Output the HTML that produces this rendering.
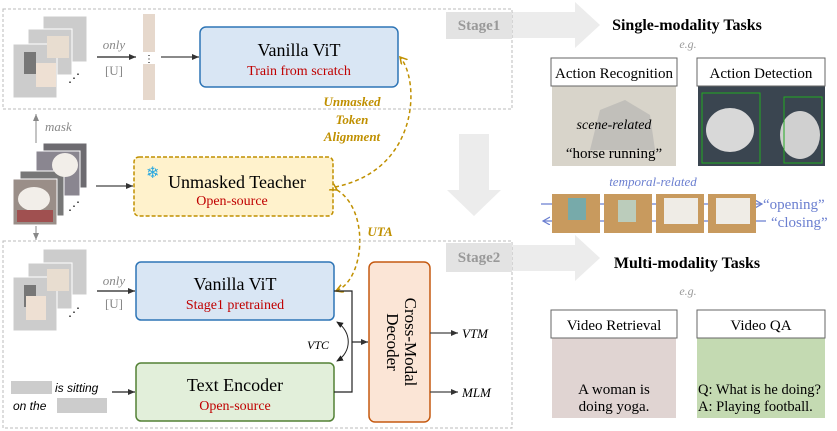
<!DOCTYPE html>
<html><head><meta charset="utf-8"><style>
body{margin:0;background:#fff;}
svg{display:block;font-family:"Liberation Serif",serif;}
</style></head><body>
<svg width="837" height="431" viewBox="0 0 837 431" xmlns="http://www.w3.org/2000/svg">
<defs>
<marker id="ak" markerWidth="8" markerHeight="8" refX="7" refY="4" orient="auto" markerUnits="userSpaceOnUse"><path d="M0,1 L7,4 L0,7 z" fill="#333"/></marker>
<marker id="ag" markerWidth="8" markerHeight="8" refX="7" refY="4" orient="auto" markerUnits="userSpaceOnUse"><path d="M0,1 L7,4 L0,7 z" fill="#888"/></marker>
<marker id="ay" markerWidth="9" markerHeight="9" refX="7" refY="4" orient="auto" markerUnits="userSpaceOnUse"><path d="M0,0 L7,4 L0,8" fill="none" stroke="#c09000" stroke-width="1.5"/></marker>
<marker id="ab" markerWidth="9" markerHeight="9" refX="7" refY="4" orient="auto" markerUnits="userSpaceOnUse"><path d="M0,0 L7,4 L0,8" fill="none" stroke="#6b7fd0" stroke-width="1.2"/></marker>
<marker id="ak2" markerWidth="8" markerHeight="8" refX="6" refY="4" orient="auto-start-reverse" markerUnits="userSpaceOnUse"><path d="M0,1 L7,4 L0,7 z" fill="#222"/></marker>
</defs>

<path d="M512,12 H575 V2 L600,25 L575,48 V38 H512 Z" fill="#ececec"/>
<path d="M512,245 H575 V235 L600,258 L575,281 V271 H512 Z" fill="#ececec"/>
<path d="M459,134 H489 V190 H501 L474,216 L447,190 H459 Z" fill="#ececec"/>

<rect x="3" y="9" width="509" height="100" fill="none" stroke="#bbb" stroke-dasharray="3,2"/>
<rect x="446" y="12" width="66" height="27" fill="#e3e3e3"/>
<text x="479" y="30" font-size="15" font-weight="bold" fill="#999" text-anchor="middle">Stage1</text>
<rect x="43" y="16" width="44" height="46" fill="#ccc" stroke="#fff"/>
<rect x="28" y="29" width="44" height="46" fill="#ccc" stroke="#fff"/>
<rect x="13" y="44" width="44" height="54" fill="#ccc" stroke="#fff"/>
<rect x="47" y="36" width="22" height="22" fill="#e8ddd0"/>
<rect x="24" y="52" width="12" height="22" fill="#777"/>
<rect x="36" y="63" width="20" height="24" fill="#eee0d3"/>
<text x="68" y="82" font-size="12">⋰</text>
<rect x="143" y="14" width="12" height="86" fill="#e6d8cc"/>
<rect x="143" y="52" width="12" height="12" fill="#fff"/>
<text x="149" y="62" font-size="10" text-anchor="middle">⋮</text>
<text x="114" y="49" font-size="13" font-style="italic" fill="#888" text-anchor="middle">only</text>
<line x1="97" y1="57" x2="136" y2="57" stroke="#222" stroke-width="1.2" marker-end="url(#ak)"/>
<text x="114" y="75" font-size="13" fill="#888" text-anchor="middle">[U]</text>
<line x1="161" y1="57" x2="199" y2="57" stroke="#444" stroke-width="1.2" marker-end="url(#ak)"/>
<rect x="200" y="27" width="198" height="60" rx="6" fill="#d9e6f4" stroke="#2e75b6" stroke-width="1.5"/>
<text x="299" y="56" font-size="18" text-anchor="middle">Vanilla ViT</text>
<text x="299" y="75" font-size="14" fill="#c00000" text-anchor="middle">Train from scratch</text>

<line x1="36" y1="143" x2="36" y2="114" stroke="#888" marker-end="url(#ag)"/>
<text x="45" y="131" font-size="13" font-style="italic" fill="#888">mask</text>
<rect x="43" y="143" width="44" height="45" fill="#6d6b70" stroke="#fff"/>
<rect x="36" y="151" width="44" height="45" fill="#8a8690" stroke="#fff"/>
<rect x="20" y="171" width="44" height="45" fill="#777" stroke="#fff"/>
<rect x="13" y="179" width="44" height="46" fill="#9a8e88" stroke="#fff"/>
<ellipse cx="34" cy="199" rx="16" ry="12" fill="#f2eee9"/>
<ellipse cx="65" cy="165" rx="13" ry="12" fill="#f2eee9"/>
<rect x="17" y="210" width="36" height="12" fill="#a05050"/>
<text x="68" y="210" font-size="12">⋰</text>
<line x1="36" y1="226" x2="36" y2="240" stroke="#888" marker-end="url(#ag)"/>
<line x1="96" y1="186" x2="133" y2="186" stroke="#444" stroke-width="1.2" marker-end="url(#ak)"/>
<rect x="134" y="157" width="199" height="59" rx="5" fill="#fff2cc" stroke="#c09000" stroke-width="1.5" stroke-dasharray="4,2"/>
<text x="146" y="178" font-size="16" fill="#29a8e0">❄</text>
<text x="237" y="188" font-size="18" text-anchor="middle">Unmasked Teacher</text>
<text x="232" y="205" font-size="14" fill="#c00000" text-anchor="middle">Open-source</text>

<path d="M335,187 C420,170 420,80 400,57" fill="none" stroke="#c09000" stroke-width="1.5" stroke-dasharray="4,3" marker-end="url(#ay)"/>
<path d="M337,190 C370,210 365,280 336,291" fill="none" stroke="#c09000" stroke-width="1.5" stroke-dasharray="4,3" marker-start="url(#ay)" marker-end="url(#ay)"/>
<g font-size="13" font-weight="bold" font-style="italic" fill="#c09000" text-anchor="middle">
<text x="352" y="106">Unmasked</text>
<text x="352" y="124">Token</text>
<text x="352" y="141">Alignment</text>
<text x="380" y="236">UTA</text>
</g>

<rect x="3" y="241" width="509" height="187" fill="none" stroke="#bbb" stroke-dasharray="3,2"/>
<rect x="446" y="243" width="66" height="29" fill="#e3e3e3"/>
<text x="479" y="262" font-size="15" font-weight="bold" fill="#999" text-anchor="middle">Stage2</text>
<rect x="43" y="249" width="44" height="46" fill="#ccc" stroke="#fff"/>
<rect x="28" y="263" width="44" height="46" fill="#ccc" stroke="#fff"/>
<rect x="13" y="277" width="44" height="54" fill="#ccc" stroke="#fff"/>
<rect x="47" y="269" width="22" height="22" fill="#e8ddd0"/>
<rect x="24" y="285" width="12" height="22" fill="#777"/>
<rect x="26" y="296" width="20" height="24" fill="#eee0d3"/>
<text x="68" y="316" font-size="12">⋰</text>
<text x="114" y="285" font-size="13" font-style="italic" fill="#888" text-anchor="middle">only</text>
<line x1="97" y1="291" x2="135" y2="291" stroke="#222" stroke-width="1.2" marker-end="url(#ak)"/>
<text x="114" y="308" font-size="13" fill="#888" text-anchor="middle">[U]</text>
<rect x="136" y="262" width="198" height="58" rx="5" fill="#d9e6f4" stroke="#2e75b6" stroke-width="1.5"/>
<text x="235" y="290" font-size="18" text-anchor="middle">Vanilla ViT</text>
<text x="235" y="309" font-size="14" fill="#c00000" text-anchor="middle">Stage1 pretrained</text>
<rect x="136" y="363" width="198" height="58" rx="5" fill="#e2efda" stroke="#538135" stroke-width="1.5"/>
<text x="235" y="391" font-size="18" text-anchor="middle">Text Encoder</text>
<text x="235" y="410" font-size="14" fill="#c00000" text-anchor="middle">Open-source</text>
<rect x="11" y="381" width="41" height="13" fill="#ccc"/>
<text x="55" y="392" font-size="12" font-style="italic" font-family="Liberation Sans,sans-serif">is sitting</text>
<text x="13" y="410" font-size="12" font-style="italic" font-family="Liberation Sans,sans-serif">on the</text>
<rect x="57" y="398" width="50" height="15" fill="#ccc"/>
<line x1="112" y1="392" x2="135" y2="392" stroke="#222" stroke-width="1.2" marker-end="url(#ak)"/>
<path d="M334,291 H352 V392 H334" fill="none" stroke="#222" stroke-width="1.2"/>
<line x1="352" y1="342" x2="368" y2="342" stroke="#222" stroke-width="1.2" marker-end="url(#ak)"/>
<path d="M337,322 C352,332 352,352 337,361" fill="none" stroke="#222" stroke-width="1" marker-start="url(#ak2)" marker-end="url(#ak2)"/>
<text x="329" y="349" font-size="12" font-style="italic" text-anchor="end">VTC</text>
<rect x="369" y="262" width="61" height="160" rx="6" fill="#fbe5d6" stroke="#c55a11" stroke-width="1.5"/>
<text transform="translate(400,342) rotate(90)" font-size="17" text-anchor="middle"><tspan x="0" y="-5">Cross-Modal</tspan><tspan x="0" y="13">Decoder</tspan></text>
<line x1="430" y1="333" x2="458" y2="333" stroke="#444" stroke-width="1.3" marker-end="url(#ak)"/>
<text x="462" y="338" font-size="13" font-style="italic">VTM</text>
<line x1="430" y1="392" x2="458" y2="392" stroke="#444" stroke-width="1.3" marker-end="url(#ak)"/>
<text x="462" y="397" font-size="13" font-style="italic">MLM</text>

<text x="687" y="30" font-size="16" font-weight="bold" text-anchor="middle">Single-modality Tasks</text>
<text x="688" y="48" font-size="12" font-style="italic" fill="#999" text-anchor="middle">e.g.</text>
<rect x="552" y="86" width="124" height="80" fill="#d8d4ca"/>
<path d="M590,150 L600,110 L625,100 L650,115 L655,150 Z" fill="#aaa" opacity="0.5"/>
<rect x="551" y="58" width="126" height="28" fill="#fff" stroke="#666"/>
<text x="614" y="78" font-size="15" text-anchor="middle">Action Recognition</text>
<text x="614" y="129" font-size="14" font-style="italic" text-anchor="middle">scene-related</text>
<text x="614" y="158" font-size="15" text-anchor="middle">“horse running”</text>
<rect x="698" y="86" width="127" height="80" fill="#3a4550"/>
<ellipse cx="730" cy="130" rx="24" ry="22" fill="#d8d8d8"/>
<ellipse cx="800" cy="135" rx="20" ry="24" fill="#d0d0d0"/>
<rect x="702" y="93" width="58" height="70" fill="none" stroke="#2a2" stroke-width="1"/>
<rect x="784" y="97" width="38" height="66" fill="none" stroke="#2a2" stroke-width="1"/>
<rect x="697" y="58" width="128" height="28" fill="#fff" stroke="#666"/>
<text x="761" y="78" font-size="15" text-anchor="middle">Action Detection</text>
<text x="653" y="186" font-size="13" font-style="italic" fill="#6b7fd0" text-anchor="middle">temporal-related</text>
<line x1="541" y1="204" x2="762" y2="204" stroke="#6b7fd0" stroke-width="1.2" marker-end="url(#ab)"/>
<line x1="766" y1="221" x2="543" y2="221" stroke="#6b7fd0" stroke-width="1.2" marker-end="url(#ab)"/>
<rect x="552" y="194" width="48" height="39" fill="#c89a5e"/>
<rect x="604" y="194" width="48" height="39" fill="#c89a5e"/>
<rect x="656" y="194" width="48" height="39" fill="#c89a5e"/>
<rect x="708" y="194" width="48" height="39" fill="#c89a5e"/>
<rect x="568" y="198" width="18" height="22" fill="#7aa"/>
<rect x="618" y="200" width="18" height="22" fill="#bcb"/>
<rect x="664" y="198" width="34" height="26" fill="#efece6"/>
<rect x="716" y="198" width="34" height="26" fill="#efece6"/>
<text x="763" y="209" font-size="15" fill="#6b7fd0">“opening”</text>
<text x="771" y="227" font-size="15" fill="#6b7fd0">“closing”</text>
<text x="687" y="268" font-size="16" font-weight="bold" text-anchor="middle">Multi-modality Tasks</text>
<text x="688" y="295" font-size="12" font-style="italic" fill="#999" text-anchor="middle">e.g.</text>
<rect x="552" y="338" width="124" height="80" fill="#e0d4d2"/>
<rect x="697" y="338" width="128" height="80" fill="#c4dab2"/>
<rect x="551" y="310" width="126" height="28" fill="#fff" stroke="#666"/>
<text x="614" y="330" font-size="15" text-anchor="middle">Video Retrieval</text>
<text x="614" y="394" font-size="15" text-anchor="middle">A woman is</text>
<text x="614" y="411" font-size="15" text-anchor="middle">doing yoga.</text>
<rect x="697" y="310" width="128" height="28" fill="#fff" stroke="#666"/>
<text x="761" y="330" font-size="15" text-anchor="middle">Video QA</text>
<text x="698" y="394" font-size="14.5">Q: What is he doing?</text>
<text x="698" y="411" font-size="14.5">A: Playing football.</text>
</svg>
</body></html>
